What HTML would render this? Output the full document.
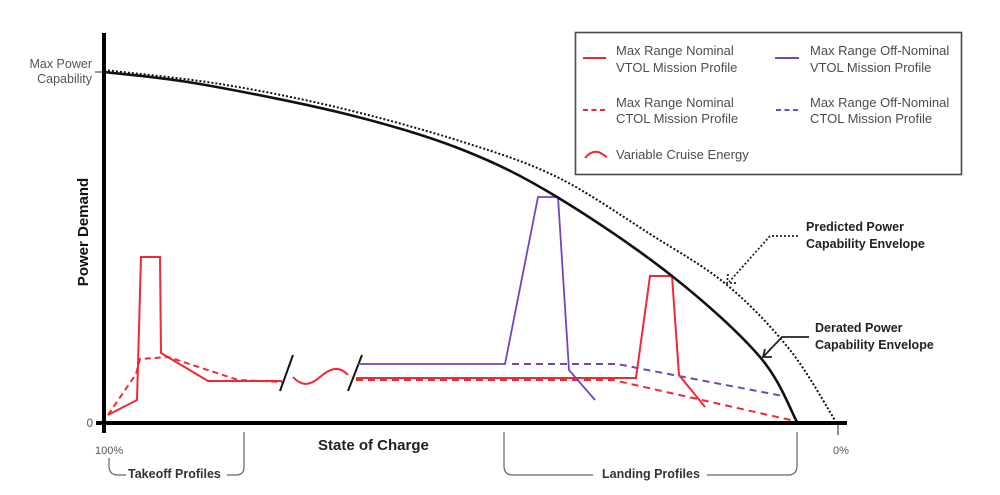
<!DOCTYPE html>
<html>
<head>
<meta charset="utf-8">
<style>
  html,body{margin:0;padding:0;background:#fff;}
  svg{display:block;}
  text{font-family:"Liberation Sans", Arial, sans-serif;}
</style>
</head>
<body>
<svg width="1000" height="495" viewBox="0 0 1000 495" xmlns="http://www.w3.org/2000/svg">
  <rect x="0" y="0" width="1000" height="495" fill="#fff"/>

  <!-- Legend -->
  <rect x="575.5" y="32.5" width="386" height="142" fill="#fff" stroke="#4a4a4a" stroke-width="1.6"/>
  <line x1="583" y1="58" x2="606" y2="58" stroke="#ee2a35" stroke-width="2"/>
  <text x="616" y="55" font-size="13" fill="#4d4d4d">Max Range Nominal</text>
  <text x="616" y="72" font-size="13" fill="#4d4d4d">VTOL Mission Profile</text>
  <line x1="775" y1="58" x2="799" y2="58" stroke="#7346b8" stroke-width="2"/>
  <text x="810" y="55" font-size="13" fill="#4d4d4d">Max Range Off-Nominal</text>
  <text x="810" y="72" font-size="13" fill="#4d4d4d">VTOL Mission Profile</text>
  <line x1="583" y1="110" x2="606" y2="110" stroke="#ee2a35" stroke-width="2" stroke-dasharray="5 3.5"/>
  <text x="616" y="107" font-size="13" fill="#4d4d4d">Max Range Nominal</text>
  <text x="616" y="123" font-size="13" fill="#4d4d4d">CTOL Mission Profile</text>
  <line x1="776" y1="110" x2="799" y2="110" stroke="#7346b8" stroke-width="2" stroke-dasharray="5 3.5"/>
  <text x="810" y="107" font-size="13" fill="#4d4d4d">Max Range Off-Nominal</text>
  <text x="810" y="123" font-size="13" fill="#4d4d4d">CTOL Mission Profile</text>
  <path d="M585,158 C590,152 594,151 598,152 C602,153 604,156 607,157" fill="none" stroke="#ee2a35" stroke-width="2"/>
  <text x="616" y="159" font-size="13" fill="#4d4d4d">Variable Cruise Energy</text>

  <!-- Y labels -->
  <text x="92" y="68" font-size="12.5" fill="#555" text-anchor="end">Max Power</text>
  <text x="92" y="83" font-size="12.5" fill="#555" text-anchor="end">Capability</text>
  <line x1="95" y1="72" x2="104" y2="72" stroke="#555" stroke-width="1.2"/>
  <text x="93" y="427" font-size="11.5" fill="#555" text-anchor="end">0</text>
  <text transform="translate(88,232) rotate(-90)" font-size="15" font-weight="bold" fill="#111" text-anchor="middle">Power Demand</text>

  <!-- X labels -->
  <text x="95" y="454" font-size="11" fill="#555">100%</text>
  <text x="833" y="454" font-size="11" fill="#555">0%</text>
  <line x1="838" y1="423" x2="838" y2="435" stroke="#555" stroke-width="1.3"/>
  <text x="318" y="450" font-size="15" font-weight="bold" fill="#222">State of Charge</text>

  <!-- Brackets -->
  <path d="M109,458 L109,466 Q109,475 118,475 L126,475" fill="none" stroke="#666" stroke-width="1.2"/>
  <text x="128" y="478" font-size="12.5" font-weight="bold" fill="#333">Takeoff Profiles</text>
  <path d="M227,475 L236,475 Q244,475 244,467 L244,432" fill="none" stroke="#666" stroke-width="1.2"/>
  <path d="M504,432 L504,466 Q504,475 513,475 L593,475" fill="none" stroke="#666" stroke-width="1.2"/>
  <text x="602" y="478" font-size="12.5" font-weight="bold" fill="#333">Landing Profiles</text>
  <path d="M707,475 L788,475 Q797,475 797,466 L797,432" fill="none" stroke="#666" stroke-width="1.2"/>

  <!-- Takeoff series -->
  <path d="M108,415 L137,400 L141,257 L160,257 L161,353 L208,381 L282,381" fill="none" stroke="#ee2a35" stroke-width="2" stroke-linejoin="miter"/>
  <path d="M108,415 L136,374 L140,359 L168,357 L238,380 L282,382" fill="none" stroke="#ee2a35" stroke-width="2" stroke-dasharray="6 4"/>
  <!-- Wave -->
  <path d="M293,377 C303,388 312,384 320,377 C328,370 338,364 348,375" fill="none" stroke="#ee2a35" stroke-width="2"/>
  <!-- Break slashes -->
  <line x1="280" y1="391" x2="293" y2="355" stroke="#111" stroke-width="2"/>
  <line x1="348" y1="391" x2="362" y2="355" stroke="#111" stroke-width="2"/>

  <!-- Cruise/Landing series -->
  <path d="M512,364 L615,364 Q625,365 637,368 L783,396" fill="none" stroke="#7346b8" stroke-width="2" stroke-dasharray="7 5"/>
  <path d="M356,380 L613,380 L795,421" fill="none" stroke="#ee2a35" stroke-width="2" stroke-dasharray="7 5"/>
  <path d="M356,378 L636,378 L650,276 L672,276 L679,375 L705,407" fill="none" stroke="#ee2a35" stroke-width="2"/>
  <path d="M358,364 L505,364 L538,197 L558,197 L569,370 L595,400" fill="none" stroke="#7346b8" stroke-width="1.8"/>

  <!-- Predicted (dotted) envelope -->
  <path d="M104,70 C123.3,72.3 180.7,77.7 220,84 C259.3,90.3 299.5,98.3 340,108 C380.5,117.7 426.8,130.5 463,142 C499.2,153.5 525.8,161.7 557,177 C588.2,192.3 621.7,216 650,234 C678.3,252 703.7,265.7 727,285 C750.3,304.3 771.8,327.2 790,350 C808.2,372.8 828.3,410 836,422" fill="none" stroke="#111" stroke-width="2" stroke-dasharray="2 2"/>
  <!-- Derated envelope -->
  <path d="M104,72 C120,74 159,76.8 200,84 C241,91.2 306.2,104 350,115 C393.8,126 428.5,136.3 463,150 C497.5,163.7 522.2,176 557,197 C591.8,218 638.2,249.3 672,276 C705.8,302.7 739.2,332.7 760,357 C780.8,381.3 790.8,411.2 797,422" fill="none" stroke="#111" stroke-width="2.6"/>

  <!-- Axes -->
  <line x1="104" y1="33" x2="104" y2="433" stroke="#000" stroke-width="4"/>
  <line x1="96" y1="423" x2="847" y2="423" stroke="#000" stroke-width="4"/>

  <!-- Annotations -->
  <path d="M798,236 L770,236 L729,282" fill="none" stroke="#222" stroke-width="1.8" stroke-dasharray="2 2"/>
  <path d="M728,274 L727,283 L737,283" fill="none" stroke="#222" stroke-width="1.8" stroke-dasharray="2 2"/>
  <text x="806" y="231" font-size="12.5" font-weight="bold" fill="#222">Predicted Power</text>
  <text x="806" y="248" font-size="12.5" font-weight="bold" fill="#222">Capability Envelope</text>

  <path d="M809,337 L782,337 L764,356" fill="none" stroke="#222" stroke-width="1.8"/>
  <path d="M765,349 L763,357 L772,357" fill="none" stroke="#222" stroke-width="1.8"/>
  <text x="815" y="332" font-size="12.5" font-weight="bold" fill="#222">Derated Power</text>
  <text x="815" y="349" font-size="12.5" font-weight="bold" fill="#222">Capability Envelope</text>
</svg>
</body>
</html>
